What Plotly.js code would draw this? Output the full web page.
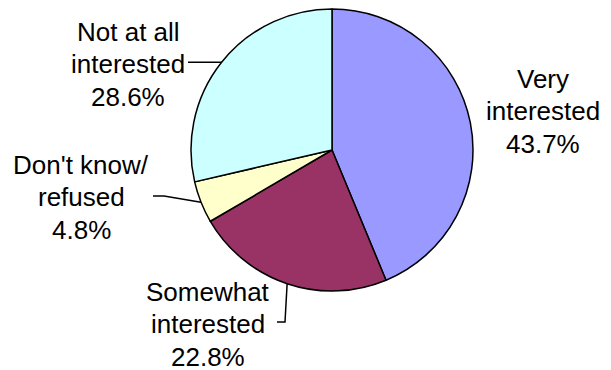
<!DOCTYPE html>
<html>
<head>
<meta charset="utf-8">
<script src="https://cdn.plot.ly/plotly-3.0.1.min.js"></script>
<style>
html,body{margin:0;padding:0;background:#fff;}
#chart{width:611px;height:370px;}
</style>
</head>
<body>
<div id="chart"></div>
<script>
// ---- data ----
const categories = ["Very interested", "Somewhat interested", "Don't know/ refused", "Not at all interested"];
const labelLines = [["Very", "interested"], ["Somewhat", "interested"], ["Don't know/", "refused"], ["Not at all", "interested"]];
const values = [43.7, 22.8, 4.8, 28.6];
const percentLabels = ["43.7%", "22.8%", "4.8%", "28.6%"];

// ---- styles / layout ----
const sliceColors = ["#9999FF", "#993366", "#FFFFCC", "#CCFFFF"];
const W = 611, H = 370;
const CX = 332, CY = 150, R = 141;
const LINE_GAP = 32.5;
// label anchor (centre of middle text line), in pixels
const labelPos = [[543, 111.5], [208, 324], [81, 197], [128, 64]];
// leader-line intermediate points after the pie edge (null = no leader)
const leaderPts = [null, [[285, 322], [277, 322]], [[164, 196], [153, 196]], [[188, null]]];
const FONT = {family: "Liberation Sans, Arial, sans-serif", size: 26, color: "#000"};

const px = x => x / W;
const py = y => 1 - y / H;

const total = values.reduce((a, b) => a + b, 0);
let cum = 0;
const annotations = [];
const shapes = [];
values.forEach((v, i) => {
  const midFrac = (cum + v / 2) / total;
  cum += v;
  const ang = midFrac * 2 * Math.PI; // clockwise from 12 o'clock
  const ex = CX + R * Math.sin(ang);
  const ey = CY - R * Math.cos(ang);
  const lines = labelLines[i].concat([percentLabels[i]]);
  lines.forEach((t, k) => {
    annotations.push({
      xref: "paper", yref: "paper",
      x: px(labelPos[i][0]), y: py(labelPos[i][1] + (k - 1) * LINE_GAP),
      xanchor: "center", yanchor: "middle",
      text: t, showarrow: false, font: FONT, align: "center"
    });
  });
  if (leaderPts[i]) {
    let d = "M " + px(ex) + "," + py(ey);
    leaderPts[i].forEach(p => {
      const yy = p[1] === null ? ey : p[1];
      d += " L " + px(p[0]) + "," + py(yy);
    });
    shapes.push({type: "path", xref: "paper", yref: "paper", path: d,
      line: {color: "#000", width: 1.5}});
  }
});

const trace = {
  type: "pie",
  labels: categories,
  values: values,
  sort: false,
  direction: "clockwise",
  rotation: 0,
  textinfo: "none",
  hoverinfo: "none",
  marker: {colors: sliceColors, line: {color: "#000", width: 1.5}},
  domain: {x: [px(CX - R), px(CX + R)], y: [py(CY + R), py(CY - R)]},
  showlegend: false
};

const layout = {
  width: W, height: H,
  margin: {l: 0, r: 0, t: 0, b: 0},
  paper_bgcolor: "#fff",
  plot_bgcolor: "#fff",
  showlegend: false,
  annotations: annotations,
  shapes: shapes
};

Plotly.newPlot("chart", [trace], layout, {displayModeBar: false, staticPlot: true});
</script>
</body>
</html>
